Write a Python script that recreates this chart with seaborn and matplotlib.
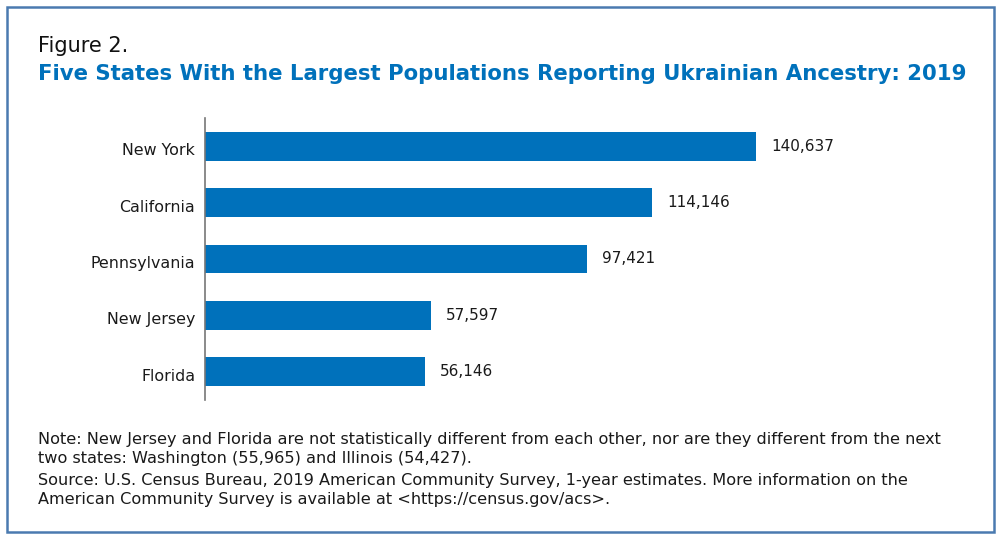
import matplotlib
matplotlib.use("Agg")
import matplotlib.pyplot as plt
import matplotlib.transforms as mtransforms
import seaborn as sns
import pandas as pd
from matplotlib.patches import Rectangle

states = ["New York", "California", "Pennsylvania", "New Jersey", "Florida"]
population = [140637, 114146, 97421, 57597, 56146]

note_lines = [
    "Note: New Jersey and Florida are not statistically different from each other, nor are they different from the next",
    "two states: Washington (55,965) and Illinois (54,427).",
]
source_lines = [
    "Source: U.S. Census Bureau, 2019 American Community Survey, 1-year estimates. More information on the",
    "American Community Survey is available at <https://census.gov/acs>.",
]

sns.set_theme(style="white")
plt.rcParams['font.family'] = ['DejaVu Sans']

df = pd.DataFrame({"state": states, "pop": population})

fig = plt.figure(figsize=(10, 5.38), dpi=100)
ax = fig.add_axes([0.205, 0.2565, 0.695, 0.5242])

bar_color = "#0071bb"
sns.barplot(data=df, x="pop", y="state", order=states, color=bar_color,
            saturation=1, width=0.51, ax=ax, edgecolor="none")

ax.set_xlim(0, 177400)
ax.set_ylim(4.5, -0.5)
ax.set_xlabel("")
ax.set_ylabel("")
ax.set_xticks([])
for s in ["top", "right", "bottom"]:
    ax.spines[s].set_visible(False)
ax.spines["left"].set_color("#777777")
ax.spines["left"].set_linewidth(1.2)
ax.tick_params(axis="y", length=0, pad=7, labelsize=11.4, labelcolor="#1a1a1a")

offset = mtransforms.ScaledTranslation(0, -3 / 100, fig.dpi_scale_trans)
for lbl in ax.get_yticklabels():
    lbl.set_transform(lbl.get_transform() + offset)

for i, v in enumerate(population):
    ax.text(v + 3800, i, f"{v:,}", va="center", ha="left", fontsize=11, color="#1a1a1a")

fig.text(0.038, 1 - 52/538, "Figure 2.", fontsize=15, color="#111111", ha="left", va="baseline")
fig.text(0.038, 1 - 80/538, "Five States With the Largest Populations Reporting Ukrainian Ancestry: 2019",
         fontsize=15.3, fontweight="bold", color="#0071bb", ha="left", va="baseline")

for k, line in enumerate(note_lines):
    fig.text(0.038, 1 - (444 + 19 * k)/538, line, fontsize=11.6, color="#1a1a1a",
             ha="left", va="baseline")
for k, line in enumerate(source_lines):
    fig.text(0.038, 1 - (485 + 19 * k)/538, line, fontsize=11.6, color="#1a1a1a",
             ha="left", va="baseline")

frame = Rectangle((0.007, 1 - 532/538), 0.987, (532 - 7)/538, transform=fig.transFigure,
                  fill=False, edgecolor="#4a7ab0", linewidth=1.8)
fig.patches.append(frame)

fig.savefig("out.png", dpi=100)
